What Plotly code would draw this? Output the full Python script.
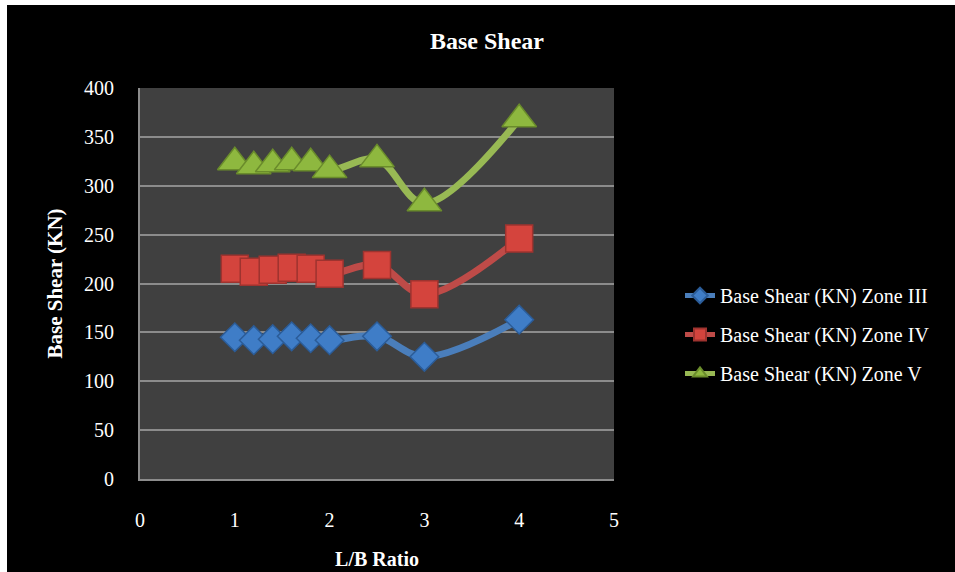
import plotly.graph_objects as go

# L/B ratio values on the x axis
lb_ratio = [1, 1.2, 1.4, 1.6, 1.8, 2, 2.5, 3, 4]

# Base shear (KN) for each seismic zone
zone_iii = [145, 142, 143, 146, 144, 142, 146, 125, 163]
zone_iv = [215, 212, 214, 216, 215, 210, 219, 189, 246]
zone_v = [324, 320, 322, 324, 323, 316, 327, 282, 368]

series_names = [
    "Base Shear (KN) Zone III",
    "Base Shear (KN) Zone IV",
    "Base Shear (KN) Zone V",
]

W, H = 955, 572
L, R, T, B = 140, 341, 88, 93
PW, PH = W - L - R, H - T - B

FONT = "Liberation Serif, Times New Roman, serif"

styles = [
    dict(line="#4A7EBB", fill="#3F7DC7", edge="#2B5C98", symbol="diamond", size=22),
    dict(line="#BE4B48", fill="#D4443D", edge="#9E332F", symbol="square", size=27),
    dict(line="#98B954", fill="#8EB83F", edge="#6A8C2B", symbol="triangle-up", size=30),
]

fig = go.Figure()
for name, values, st in zip(series_names, [zone_iii, zone_iv, zone_v], styles):
    fig.add_trace(
        go.Scatter(
            x=lb_ratio,
            y=values,
            name=name,
            legendgroup=name,
            mode="lines+markers",
            line=dict(color=st["line"], width=7, shape="spline", smoothing=1.0),
            marker=dict(
                symbol=st["symbol"],
                size=st["size"],
                color=st["fill"],
                line=dict(color=st["edge"], width=1.5),
            ),
        )
    )

# thin white frame strips along the left and top edges
def px_x(p):
    return (p - L) / PW

def px_y(p):
    return (H - B - p) / PH

shapes = [
    dict(type="rect", xref="paper", yref="paper",
         x0=px_x(0), x1=px_x(7), y0=px_y(H), y1=px_y(0),
         fillcolor="white", line=dict(width=0), layer="above"),
    dict(type="rect", xref="paper", yref="paper",
         x0=px_x(0), x1=px_x(W), y0=px_y(5), y1=px_y(0),
         fillcolor="white", line=dict(width=0), layer="above"),
]

fig.update_layout(
    width=W,
    height=H,
    margin=dict(l=L, r=R, t=T, b=B, autoexpand=False),
    paper_bgcolor="black",
    plot_bgcolor="#404040",
    font=dict(family=FONT, color="white", size=20),
    title=dict(
        text="<b>Base Shear</b>",
        x=487 / W,
        xanchor="center",
        y=1 - 41 / H,
        yanchor="middle",
        font=dict(family=FONT, size=24, color="white"),
    ),
    showlegend=True,
    legend=dict(
        x=px_x(680),
        xanchor="left",
        y=px_y(276),
        yanchor="top",
        font=dict(family=FONT, size=20, color="white"),
        bgcolor="rgba(0,0,0,0)",
        tracegroupgap=10,
        itemsizing="constant",
    ),
    shapes=shapes,
)

fig.update_xaxes(
    range=[0, 5],
    dtick=1,
    showgrid=False,
    zeroline=False,
    showline=True,
    linecolor="#8C8C8C",
    linewidth=2,
    ticks="",
    automargin=False,
    ticklabelstandoff=22,
    tickfont=dict(family=FONT, size=20, color="white"),
    title=dict(
        text="<b>L/B Ratio</b>",
        font=dict(family=FONT, size=20, color="white"),
        standoff=22,
    ),
)

fig.update_yaxes(
    range=[0, 400],
    dtick=50,
    showgrid=True,
    gridcolor="#8C8C8C",
    gridwidth=2,
    zeroline=False,
    showline=True,
    linecolor="#8C8C8C",
    linewidth=2,
    ticks="",
    automargin=False,
    ticklabelstandoff=20,
    tickfont=dict(family=FONT, size=20, color="white"),
    title=dict(
        text="<b>Base Shear (KN)</b>",
        font=dict(family=FONT, size=21, color="white"),
        standoff=16,
    ),
)

fig.write_html(
    "out.html",
    post_script="document.body.style.margin='0';document.body.style.background='black';",
)
